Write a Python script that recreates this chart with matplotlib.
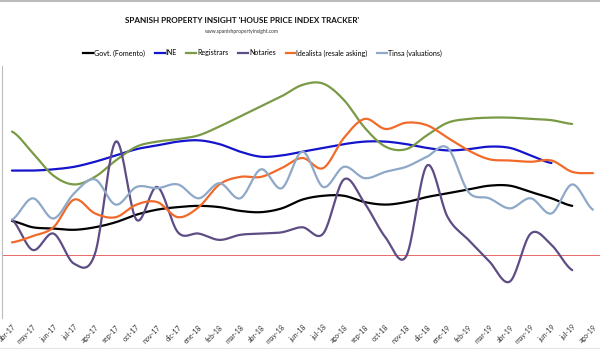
import numpy as np
import matplotlib
matplotlib.use("Agg")
import matplotlib.pyplot as plt
from matplotlib.lines import Line2D

months = ["abr-17", "may-17", "jun-17", "jul-17", "ago-17", "sep-17", "oct-17", "nov-17",
          "dic-17", "ene-18", "feb-18", "mar-18", "abr-18", "may-18", "jun-18", "jul-18",
          "ago-18", "sep-18", "oct-18", "nov-18", "dic-18", "ene-19", "feb-19", "mar-19",
          "abr-19", "may-19", "jun-19", "jul-19", "ago-19"]

govt = [2.7, 2.2, 2.1, 2.0, 2.2, 2.6, 3.2, 3.6, 3.8, 3.9, 3.8, 3.5, 3.4, 3.7, 4.4, 4.7,
        4.7, 4.2, 4.0, 4.2, 4.6, 4.9, 5.2, 5.5, 5.5, 5.0, 4.5, 3.9]
ine = [6.7, 6.7, 6.8, 7.0, 7.4, 7.9, 8.4, 8.7, 9.0, 9.1, 8.8, 8.2, 7.8, 7.9, 8.2, 8.5,
       8.8, 9.0, 9.0, 8.8, 8.5, 8.3, 8.4, 8.6, 8.5, 7.9, 7.3]
registrars = [9.8, 8.1, 6.3, 5.6, 6.2, 7.5, 8.6, 9.0, 9.2, 9.5, 10.2, 11.0, 11.8, 12.6,
              13.5, 13.6, 12.3, 10.1, 8.6, 8.4, 9.5, 10.5, 10.8, 10.9, 10.9, 10.8, 10.7, 10.4]
notaries = [2.8, 0.4, 1.7, -0.7, 0.1, 9.0, 2.8, 5.4, 1.8, 1.7, 1.2, 1.6, 1.7, 1.8, 2.2,
            1.7, 6.0, 4.1, 1.4, -0.1, 7.1, 3.0, 1.2, -0.5, -2.1, 1.7, 0.8, -1.2]
idealista = [1.0, 1.5, 2.2, 4.4, 3.3, 3.0, 4.0, 4.2, 3.0, 3.8, 5.6, 6.2, 6.2, 6.9, 7.7,
             6.9, 9.3, 10.8, 10.0, 10.5, 10.3, 9.3, 8.3, 7.6, 7.5, 7.4, 7.5, 6.6, 6.5]
tinsa = [2.8, 4.5, 2.9, 4.9, 6.0, 4.0, 5.4, 5.3, 5.6, 4.5, 5.7, 4.5, 6.8, 5.3, 8.2, 5.4,
         7.0, 6.1, 6.6, 7.0, 7.8, 8.5, 5.0, 4.5, 3.7, 4.5, 3.3, 5.6, 3.6]

series = [
    ("Govt. (Fomento)", govt, "#000000"),
    ("INE", ine, "#1414CC"),
    ("Registrars", registrars, "#7A9A45"),
    ("Notaries", notaries, "#5E4C85"),
    ("Idealista (resale asking)", idealista, "#F26A2A"),
    ("Tinsa (valuations)", tinsa, "#8EA8C8"),
]


def smooth(y, n=20):
    """Catmull-Rom style smoothing like spreadsheet 'smoothed line'."""
    y = np.asarray(y, dtype=float)
    x = np.arange(len(y), dtype=float)
    xs, ys = [], []
    for i in range(len(y) - 1):
        p0 = y[i - 1] if i > 0 else y[i]
        p1, p2 = y[i], y[i + 1]
        p3 = y[i + 2] if i + 2 < len(y) else y[i + 1]
        t = np.linspace(0, 1, n, endpoint=False)
        c1 = p1 + (p2 - p0) / 6.0
        c2 = p2 - (p3 - p1) / 6.0
        yy = (1 - t) ** 3 * p1 + 3 * (1 - t) ** 2 * t * c1 + 3 * (1 - t) * t ** 2 * c2 + t ** 3 * p2
        xs.append(x[i] + t)
        ys.append(yy)
    xs.append([x[-1]])
    ys.append([y[-1]])
    return np.concatenate(xs), np.concatenate(ys)


plt.rcParams['font.family'] = ['Lato', 'DejaVu Sans']
fig = plt.figure(figsize=(6, 3.5), dpi=100)
ax = fig.add_axes([2 / 600, 1 - 318 / 350, 598 / 600, (318 - 66) / 350])

ax.axhline(0, color="#E86A6A", lw=0.7, zorder=1)
handles = []
for name, vals, col in series:
    xs, ys = smooth(vals)
    ax.plot(xs, ys, color=col, lw=1.6, solid_capstyle="round", zorder=3)
    handles.append(Line2D([0], [0], color=col, lw=1.6, label=name))

ax.set_xlim(-0.48, 28.34)
ax.set_ylim(-5, 15)
ax.set_xticks(range(len(months)))
ax.set_xticklabels(months, rotation=45, ha="right", rotation_mode="anchor",
                   fontsize=5, color="#333333")
ax.tick_params(axis="x", length=0, pad=4)
ax.set_yticks([])
for s in ["top", "right", "bottom"]:
    ax.spines[s].set_visible(False)
ax.spines["left"].set_color("#BBBBBB")
ax.spines["left"].set_linewidth(0.8)

fig.text(0.404, 1 - 20.5 / 350, "SPANISH PROPERTY INSIGHT 'HOUSE PRICE INDEX TRACKER'",
         ha="center", va="center", fontsize=5.9, fontweight="bold", color="#111111")
fig.text(0.404, 1 - 32 / 350, "www.spanishpropertyinsight.com",
         ha="center", va="center", fontsize=3.6, color="#333333")
fig.legend(handles=handles, loc="center", bbox_to_anchor=(0.4375, 1 - 53 / 350),
           ncol=6, frameon=False, fontsize=5.1, handlelength=1.4, handletextpad=0.1,
           columnspacing=1.4, borderpad=0)

fig.add_artist(Line2D([0, 1], [0.997, 0.997], color="#BBBBBB", lw=1.5,
                      transform=fig.transFigure))
fig.add_artist(Line2D([0, 1], [0.005, 0.005], color="#E6E6E6", lw=0.8,
                      transform=fig.transFigure))

fig.savefig("out.png", dpi=100)
